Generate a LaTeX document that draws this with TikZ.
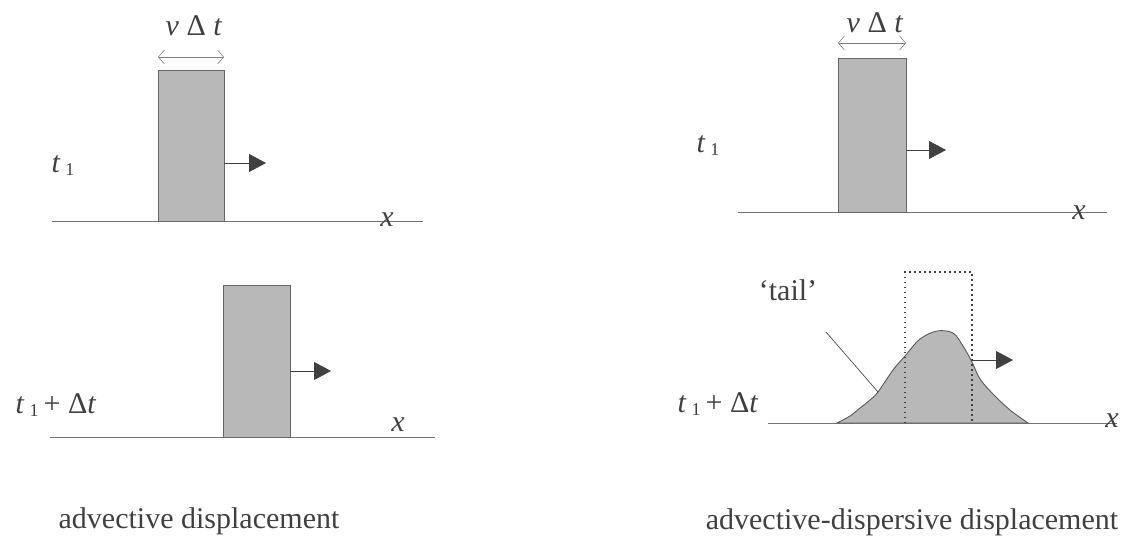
\documentclass[tikz,border=0pt]{standalone}
\usepackage{fontspec}
\setmainfont{Liberation Serif}
\usetikzlibrary{arrows.meta}
\newcommand{\tsubone}{\textit{t}\,\raisebox{-3pt}{\fontsize{18}{18}\selectfont 1}}
\begin{document}
\begin{tikzpicture}[x=1pt,y=-1pt,
 lbl/.style={font=\fontsize{30}{32}\selectfont, text=black!75, inner sep=0pt, anchor=base},
 captext/.style={font=\fontsize{30}{32}\selectfont, text=black!75, inner sep=0pt, anchor=base},
 pulse/.style={draw=black!60, line width=0.8pt, fill=black!28, inner sep=0pt, outer sep=0pt, anchor=north west},
 axis/.style={draw=black!55, line width=0.9pt},
 push/.style={draw=black!75, line width=0.8pt, -{Triangle[length=17pt,width=18pt]}},
 span/.style={draw=black!50, line width=0.6pt, {Straight Barb[length=6pt,width=14pt]}-{Straight Barb[length=6pt,width=14pt]}},
 ghost/.style={draw=black!75, line width=1.3pt, dash pattern=on 1.5pt off 3.5pt},
 lead/.style={draw=black!70, line width=0.7pt},
 bell/.style={draw=black!65, line width=0.9pt, fill=black!28}]
\useasboundingbox (0,0) rectangle (1138,538);

% ---------- left top ----------
\coordinate (la0) at (52,221);
\coordinate (la1) at (423,221);
\draw[axis] (la0) -- (la1);
\node[pulse, minimum width=66pt, minimum height=151pt] (r1) at (158,70) {};
\coordinate (s1a) at (158,57);
\coordinate (s1b) at (224,57);
\draw[span] (s1a) -- (s1b);
\node[lbl] (v1) at (194,35) {\textit{v} Δ \textit{t}};
\node[lbl] (t1) at (63,172) {\tsubone};
\node[lbl] (x1) at (387,226) {\textit{x}};
\coordinate (p1a) at (224,163);
\coordinate (p1b) at (266,163);
\draw[push] (p1a) -- (p1b);

% ---------- left bottom ----------
\coordinate (lb0) at (50,437);
\coordinate (lb1) at (435,437);
\draw[axis] (lb0) -- (lb1);
\node[pulse, minimum width=67pt, minimum height=152pt] (r2) at (223,285) {};
\node[lbl] (t2) at (56,413) {\tsubone\,+ Δ\textit{t}};
\node[lbl] (x2) at (398,431) {\textit{x}};
\coordinate (p2a) at (290,371);
\coordinate (p2b) at (331,371);
\draw[push] (p2a) -- (p2b);

% ---------- right top ----------
\coordinate (ra0) at (738,212);
\coordinate (ra1) at (1107,212);
\draw[axis] (ra0) -- (ra1);
\node[pulse, minimum width=68pt, minimum height=154pt] (r3) at (838,58) {};
\coordinate (s3a) at (838,43);
\coordinate (s3b) at (906,43);
\draw[span] (s3a) -- (s3b);
\node[lbl] (v3) at (875,32) {\textit{v} Δ \textit{t}};
\node[lbl] (t3) at (708,152) {\tsubone};
\node[lbl] (x3) at (1079,219) {\textit{x}};
\coordinate (p3a) at (906,150);
\coordinate (p3b) at (946,150);
\draw[push] (p3a) -- (p3b);

% ---------- right bottom ----------
\coordinate (rb0) at (768,423);
\coordinate (rb1) at (1117,423);
\draw[axis] (rb0) -- (rb1);
\path[bell] plot[smooth, tension=0.55] coordinates {(837,423) (850,416) (860,408) (870,400) (878,392) (893,370) (905,356) (920,339) (937,331) (953,333) (963,346) (972,362) (980,379) (993,394) (1010,410) (1028,423)} -- cycle;
\coordinate (g0) at (905,423);
\coordinate (g1) at (905,272);
\coordinate (g2) at (972,272);
\coordinate (g3) at (972,423);
\draw[ghost] (g0) -- (g1) -- (g2) -- (g3);
\node[lbl] (tail) at (788,300) {‘tail’};
\coordinate (l0) at (826,332);
\coordinate (l1) at (878,392);
\draw[lead] (l0) -- (l1);
\node[lbl] (t4) at (718,412) {\tsubone\,+ Δ\textit{t}};
\node[lbl] (x4) at (1112,427) {\textit{x}};
\coordinate (p4a) at (971,360);
\coordinate (p4b) at (1013,360);
\draw[push] (p4a) -- (p4b);

% ---------- captions ----------
\node[captext] (c1) at (199,528) {advective displacement};
\node[captext] (c2) at (912,529) {advective-dispersive displacement};
\end{tikzpicture}
\end{document}
